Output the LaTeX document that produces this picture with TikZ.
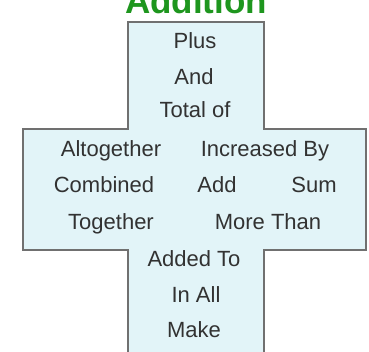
\documentclass[tikz,border=0pt]{standalone}
\usepackage{fontspec}
\setmainfont{Liberation Sans}
\definecolor{crossfill}{RGB}{226,244,248}
\definecolor{crossline}{RGB}{112,112,112}
\definecolor{wordgray}{RGB}{50,50,50}
\definecolor{titlegreen}{RGB}{30,150,30}
\tikzset{
  word/.style={anchor=base,inner sep=0pt,text=wordgray,font=\fontsize{22}{22}\selectfont},
  heading/.style={anchor=base,inner sep=0pt,text=titlegreen,font=\fontsize{35}{35}\selectfont\bfseries}
}
\begin{document}
\begin{tikzpicture}[x=1pt,y=-1pt]

\useasboundingbox (0,0) rectangle (369,352);
\clip (0,0) rectangle (369,352);

% The title
\node[heading] (title) at (196,14) {Addition};

% The cross
\draw[crossline,fill=crossfill,line width=2pt,line join=miter]
  (128,22) -- (264,22) -- (264,129) -- (366,129) -- (366,250) -- (264,250)
  -- (264,362) -- (128,362) -- (128,250) -- (23,250) -- (23,129) -- (128,129) -- cycle;

% The upper arm
\node[word] (plus) at (195,49) {Plus};
\node[word] (and) at (194,85) {And};
\node[word] (totalof) at (195,118) {Total of};

% The middle rows
\node[word] (altogether) at (111,157) {Altogether};
\node[word] (increased) at (265,157) {Increased By};
\node[word] (combined) at (104,193) {Combined};
\node[word] (add) at (217,193) {Add};
\node[word] (sum) at (314,193) {Sum};
\node[word] (together) at (111,230) {Together};
\node[word] (morethan) at (268,230) {More Than};

% The lower arm
\node[word] (addedto) at (194,267) {Added To};
\node[word] (inall) at (196,302) {In All};
\node[word] (make) at (194,337) {Make};

\end{tikzpicture}
\end{document}
